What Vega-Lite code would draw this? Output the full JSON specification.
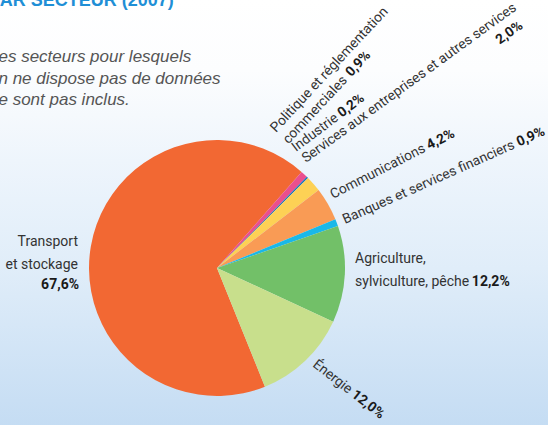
{
  "$schema": "https://vega.github.io/schema/vega-lite/v6.json",
  "width": 662,
  "height": 536,
  "autosize": {"type": "none"},
  "padding": {"left": -114, "top": 0, "right": 0, "bottom": -111},
  "background": "#ffffff",
  "view": {
    "stroke": null,
    "fill": {
      "gradient": "linear", "x1": 0, "y1": 0, "x2": 0, "y2": 1,
      "stops": [
        {"offset": 0, "color": "#ffffff"},
        {"offset": 0.13, "color": "#fcfdfe"},
        {"offset": 0.3, "color": "#eef5fc"},
        {"offset": 0.5, "color": "#e0edf9"},
        {"offset": 0.8, "color": "#c4dcf3"},
        {"offset": 1, "color": "#bcd7f1"}
      ]
    }
  },
  "title": {
    "text": "PAR SECTEUR (2007)",
    "subtitle": ["Les secteurs pour lesquels", "on ne dispose pas de données", "ne sont pas inclus."],
    "orient": "top",
    "anchor": "start",
    "frame": "group",
    "align": "left",
    "baseline": "alphabetic",
    "offset": 0,
    "dx": 103,
    "dy": 122,
    "font": "Liberation Sans",
    "fontSize": 18,
    "fontWeight": "bold",
    "color": "#1f8fd6",
    "subtitleFont": "Liberation Sans",
    "subtitleFontSize": 17,
    "subtitleFontStyle": "italic",
    "subtitleColor": "#555555",
    "subtitleLineHeight": 21.5,
    "subtitlePadding": 38
  },
  "data": {
    "values": [
      {"key": "T", "sector": "Transport et stockage", "value": 67.6, "order": 1, "name": ["Transport", "et stockage"], "pct": "67,6%"},
      {"key": "P", "sector": "Politique et réglementation commerciales", "value": 0.9, "order": 2, "name": ["Politique et réglementation", "commerciales"], "pct": "0,9%"},
      {"key": "I", "sector": "Industrie", "value": 0.2, "order": 3, "name": "Industrie", "pct": "0,2%"},
      {"key": "S", "sector": "Services aux entreprises et autres services", "value": 2.0, "order": 4, "name": "Services aux entreprises et autres services", "pct": "2,0%"},
      {"key": "C", "sector": "Communications", "value": 4.2, "order": 5, "name": "Communications", "pct": "4,2%"},
      {"key": "B", "sector": "Banques et services financiers", "value": 0.9, "order": 6, "name": "Banques et services financiers", "pct": "0,9%"},
      {"key": "A", "sector": "Agriculture, sylviculture, pêche", "value": 12.2, "order": 7, "name": ["Agriculture,", "sylviculture, pêche"], "pct": "12,2%"},
      {"key": "E", "sector": "Énergie", "value": 12.0, "order": 8, "name": "Énergie", "pct": "12,0%"}
    ]
  },
  "encoding": {
    "theta": {"field": "value", "type": "quantitative", "stack": true, "scale": {"range": [2.7576, 9.0408]}},
    "order": {"field": "order", "type": "quantitative"}
  },
  "layer": [
    {
      "mark": {"type": "arc", "outerRadius": 128},
      "encoding": {
        "color": {
          "field": "key", "type": "nominal", "legend": null,
          "scale": {"domain": ["T", "P", "I", "S", "C", "B", "A", "E"],
                    "range": ["#f26833", "#ea4f8e", "#1e74b8", "#fdd155", "#f99b55", "#1ab8e8", "#72c068", "#c8df8c"]}
        }
      }
    },
    {"mark": {"type": "text", "radius": 128, "align": "right", "baseline": "alphabetic", "angle": 0, "dx": -12.8, "dy": -0.5, "lineHeight": 23, "font": "Roboto", "fontSize": 14, "color": "#333333"},
     "encoding": {"text": {"condition": {"test": "datum.key === 'T'", "field": "name", "type": "nominal"}, "value": ""}}},
    {"mark": {"type": "text", "radius": 128, "align": "right", "baseline": "alphabetic", "angle": 0, "dx": -11.8, "dy": 42.5, "font": "Roboto", "fontSize": 14, "fontWeight": "bold", "color": "#1a1a1a"},
     "encoding": {"text": {"condition": {"test": "datum.key === 'T'", "field": "pct", "type": "nominal"}, "value": ""}}},
    {"mark": {"type": "text", "radius": 128, "align": "left", "baseline": "alphabetic", "angle": 0, "dx": 10.2, "dy": -11.3, "lineHeight": 23, "font": "Roboto", "fontSize": 14, "color": "#333333"},
     "encoding": {"text": {"condition": {"test": "datum.key === 'A'", "field": "name", "type": "nominal"}, "value": ""}}},
    {"mark": {"type": "text", "radius": 128, "align": "left", "baseline": "alphabetic", "angle": 0, "dx": 127, "dy": 11.7, "font": "Roboto", "fontSize": 14, "fontWeight": "bold", "color": "#1a1a1a"},
     "encoding": {"text": {"condition": {"test": "datum.key === 'A'", "field": "pct", "type": "nominal"}, "value": ""}}},
    {"mark": {"type": "text", "radius": 128, "align": "left", "baseline": "alphabetic", "angle": -47, "dx": 11, "dy": -48.9, "lineHeight": 17, "font": "Roboto", "fontSize": 13.8, "color": "#333333"},
     "encoding": {"text": {"condition": {"test": "datum.key === 'P'", "field": "name", "type": "nominal"}, "value": ""}}},
    {"mark": {"type": "text", "radius": 128, "align": "left", "baseline": "alphabetic", "angle": -47, "dx": 103, "dy": -31.9, "font": "Roboto", "fontSize": 13.8, "fontWeight": "bold", "color": "#1a1a1a"},
     "encoding": {"text": {"condition": {"test": "datum.key === 'P'", "field": "pct", "type": "nominal"}, "value": ""}}},
    {"mark": {"type": "text", "radius": 128, "align": "left", "baseline": "alphabetic", "angle": -37, "dx": 6.2, "dy": -27.1, "font": "Roboto", "fontSize": 13.8, "color": "#333333"},
     "encoding": {"text": {"condition": {"test": "datum.key === 'I'", "field": "name", "type": "nominal"}, "value": ""}}},
    {"mark": {"type": "text", "radius": 128, "align": "left", "baseline": "alphabetic", "angle": -37, "dx": 63.3, "dy": -27.1, "font": "Roboto", "fontSize": 13.8, "fontWeight": "bold", "color": "#1a1a1a"},
     "encoding": {"text": {"condition": {"test": "datum.key === 'I'", "field": "pct", "type": "nominal"}, "value": ""}}},
    {"mark": {"type": "text", "radius": 128, "align": "left", "baseline": "alphabetic", "angle": -36, "dx": 6.2, "dy": -21.3, "font": "Roboto", "fontSize": 13.8, "color": "#333333"},
     "encoding": {"text": {"condition": {"test": "datum.key === 'S'", "field": "name", "type": "nominal"}, "value": ""}}},
    {"mark": {"type": "text", "radius": 128, "align": "right", "baseline": "alphabetic", "angle": -36, "dx": 262, "dy": -3, "font": "Roboto", "fontSize": 13.8, "fontWeight": "bold", "color": "#1a1a1a"},
     "encoding": {"text": {"condition": {"test": "datum.key === 'S'", "field": "pct", "type": "nominal"}, "value": ""}}},
    {"mark": {"type": "text", "radius": 128, "align": "left", "baseline": "alphabetic", "angle": -27, "dx": 6.8, "dy": -2.4, "font": "Roboto", "fontSize": 13.8, "color": "#333333"},
     "encoding": {"text": {"condition": {"test": "datum.key === 'C'", "field": "name", "type": "nominal"}, "value": ""}}},
    {"mark": {"type": "text", "radius": 128, "align": "left", "baseline": "alphabetic", "angle": -27, "dx": 115, "dy": -2.4, "font": "Roboto", "fontSize": 13.8, "fontWeight": "bold", "color": "#1a1a1a"},
     "encoding": {"text": {"condition": {"test": "datum.key === 'C'", "field": "pct", "type": "nominal"}, "value": ""}}},
    {"mark": {"type": "text", "radius": 128, "align": "left", "baseline": "alphabetic", "angle": -24, "dx": 7, "dy": 4.6, "font": "Roboto", "fontSize": 13.8, "color": "#333333"},
     "encoding": {"text": {"condition": {"test": "datum.key === 'B'", "field": "name", "type": "nominal"}, "value": ""}}},
    {"mark": {"type": "text", "radius": 128, "align": "left", "baseline": "alphabetic", "angle": -24, "dx": 197.4, "dy": 4.6, "font": "Roboto", "fontSize": 13.8, "fontWeight": "bold", "color": "#1a1a1a"},
     "encoding": {"text": {"condition": {"test": "datum.key === 'B'", "field": "pct", "type": "nominal"}, "value": ""}}},
    {"mark": {"type": "text", "radius": 128, "align": "left", "baseline": "alphabetic", "angle": 38, "dx": 8.5, "dy": 0, "font": "Roboto", "fontSize": 13.8, "color": "#333333"},
     "encoding": {"text": {"condition": {"test": "datum.key === 'E'", "field": "name", "type": "nominal"}, "value": ""}}},
    {"mark": {"type": "text", "radius": 128, "align": "left", "baseline": "alphabetic", "angle": 38, "dx": 57.7, "dy": 0, "font": "Roboto", "fontSize": 13.8, "fontWeight": "bold", "color": "#1a1a1a"},
     "encoding": {"text": {"condition": {"test": "datum.key === 'E'", "field": "pct", "type": "nominal"}, "value": ""}}}
  ]
}
